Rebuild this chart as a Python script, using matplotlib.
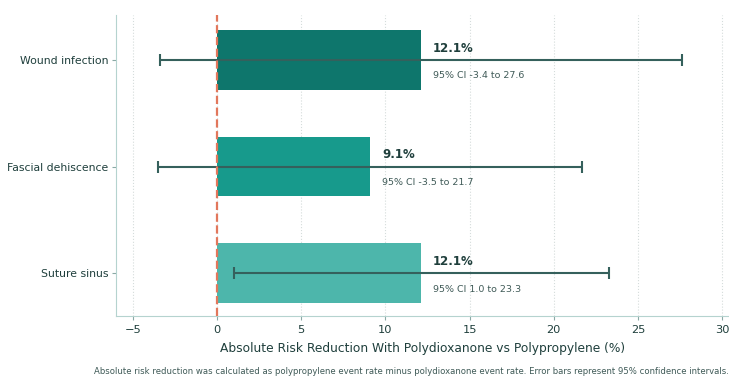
import matplotlib.pyplot as plt

outcomes = ['Wound infection', 'Fascial dehiscence', 'Suture sinus']
arr = [12.1, 9.1, 12.1]
ci_low = [-3.4, -3.5, 1.0]
ci_high = [27.6, 21.7, 23.3]
colors = ['#0e766c', '#179a8c', '#4db6ab']

fig = plt.figure(figsize=(7.29, 3.76), dpi=100)
ax = fig.add_axes([116 / 729, 60 / 376, 613 / 729, 301 / 376])

y = list(range(len(outcomes)))
ax.barh(y, arr, height=0.56, color=colors, zorder=2)
xerr = [[a - l for a, l in zip(arr, ci_low)], [h - a for a, h in zip(arr, ci_high)]]
ax.errorbar(arr, y, xerr=xerr, fmt='none', ecolor='#35605c', elinewidth=1.5,
            capsize=4, capthick=1.5, zorder=3)
ax.axvline(0, color='#e2775c', linestyle='--', linewidth=1.6, zorder=4)

for i in y:
    ax.text(arr[i] + 0.7, i - 0.11, f'{arr[i]}%', fontsize=8.5, fontweight='bold',
            color='#1f3f3c', va='center')
    ax.text(arr[i] + 0.7, i + 0.15, f'95% CI {ci_low[i]} to {ci_high[i]}', fontsize=6.8,
            color='#3f5a57', va='center')

ax.set_yticks(y)
ax.set_yticklabels(outcomes, fontsize=7.8, color='#1f3f3c')
ax.set_ylim(2.4, -0.42)
ax.set_xlim(-6, 30.4)
ax.set_xticks([-5, 0, 5, 10, 15, 20, 25, 30])
ax.tick_params(axis='x', labelsize=8.2, colors='#1f3f3c')
ax.tick_params(axis='y', pad=2.5)
ax.tick_params(axis='both', color='#8aa9a5', length=3)
ax.xaxis.grid(True, linestyle=':', color='#d5dcdb', linewidth=0.8, zorder=0)
for s in ['top', 'right']:
    ax.spines[s].set_visible(False)
for s in ['left', 'bottom']:
    ax.spines[s].set_color('#b5d3cf')
ax.set_xlabel('Absolute Risk Reduction With Polydioxanone vs Polypropylene (%)',
              fontsize=8.8, color='#1f3f3c', labelpad=5)

fig.text(94 / 729, 1 - 371 / 376,
         'Absolute risk reduction was calculated as polypropylene event rate minus polydioxanone event rate. '
         'Error bars represent 95% confidence intervals.',
         fontsize=6.1, color='#3f5a57', va='center', ha='left')

fig.savefig('out.png', dpi=100)
